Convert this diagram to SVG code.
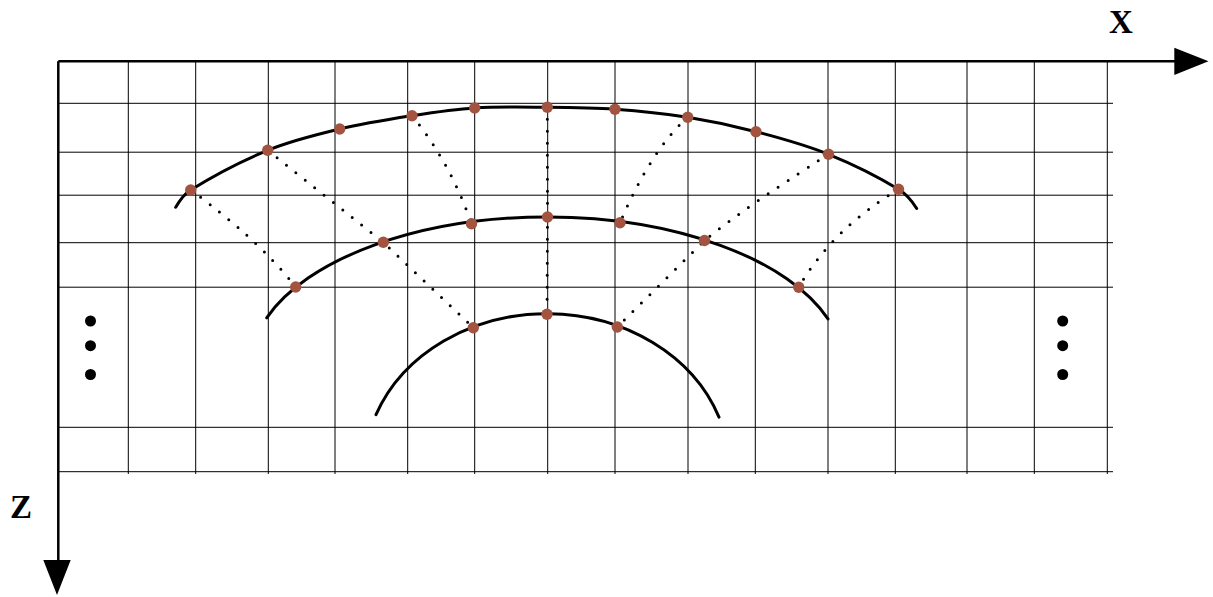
<svg xmlns="http://www.w3.org/2000/svg" width="1213" height="597" viewBox="0 0 1213 597">
<style>
.grid{stroke:#000;stroke-width:1;fill:none}
.axis{stroke:#000;stroke-width:2.5;fill:none}
.arc{stroke:#000;stroke-width:3;fill:none;stroke-linecap:round}
.ray{stroke:#000;stroke-width:3;fill:none;stroke-linecap:round;stroke-dasharray:0 12}
.pt{fill:#a25441}
.bd{fill:#000}
.lbl{font-family:"Liberation Serif","Times New Roman",serif;font-weight:bold;font-size:33px;fill:#000}
</style>
<rect width="1213" height="597" fill="#fff"/>
<g id="grid">
<path class="grid" d="M128.3 61V474M195.7 61V474M268.3 61V474M335 61V474M407.7 61V474M474.7 61V474M547.7 61V474M615 61V474M688 61V474M755.3 61V474M828 61V474M895.3 61V474M967 61V474M1034.3 61V474M1107.3 61V474"/>
<path class="grid" d="M58 103.3H1113M58 152.2H1113M58 195.2H1113M58 242.7H1113M58 287.2H1113M58 427.3H1113M58 471.7H1113"/>
</g>
<g id="axes">
<path class="axis" d="M58.3 61.3H1177M58.3 61.3V562"/>
<polygon points="1174.3,47.7 1208.5,61.3 1174.3,75" fill="#000"/>
<polygon points="43.3,560 70.7,560 57,595" fill="#000"/>
<text class="lbl" x="1109" y="33">X</text>
<text class="lbl" x="10" y="518">Z</text>
</g>
<g id="connectors">
<path class="ray" d="M190.7 190Q259 240 295.7 287"/>
<path class="ray" d="M267.7 150.3L383.3 242.3L473.3 327.7"/>
<path class="ray" d="M412 115.7Q450 162 471.5 223.7"/>
<path class="ray" d="M547.3 107.3L547.5 217L547 314.3"/>
<path class="ray" d="M687.7 117.3Q651 150 620 222.7"/>
<path class="ray" d="M828.5 154.3Q744 208 704.5 240.5L617.3 327"/>
<path class="ray" d="M898.5 189.3Q832.8 228.6 798.7 287.3"/>
</g>
<g id="outer-arc">
<path class="arc" d="M175.7 207.3C179.5 200.7 184.2 194 190.7 190C215.2 174.7 241 161.2 267.7 150.3C290.9 140.8 315.4 134.8 339.7 129C363.5 123.3 387.8 119.5 412 115.7C432.8 112.5 453.7 109.3 474.7 108C498.9 106.5 523.1 107.1 547.3 107.3C569.9 107.5 592.5 107.7 615 109.3C639.3 111 663.6 113.5 687.7 117.3C710.7 121 733.5 125.8 756 131.7C780.5 138.1 805 144.8 828.5 154.3C852.7 164.1 876.3 175.6 898.5 189.3C906 193.9 912 201 916.7 208.5"/>
</g>
<g id="middle-arc">
<path class="arc" d="M266.7 317.8A296.8 150.2 0 0 1 828 318.9"/>
</g>
<g id="inner-arc">
<path class="arc" d="M376 414.7A182.8 156.3 0 0 1 719 417.1"/>
</g>
<g id="outer-points">
<circle class="pt" cx="190.7" cy="190" r="5.7"/>
<circle class="pt" cx="267.7" cy="150.3" r="5.7"/>
<circle class="pt" cx="339.7" cy="129" r="5.7"/>
<circle class="pt" cx="412" cy="115.7" r="5.7"/>
<circle class="pt" cx="474.7" cy="108" r="5.7"/>
<circle class="pt" cx="547.3" cy="107.3" r="5.7"/>
<circle class="pt" cx="615" cy="109.3" r="5.7"/>
<circle class="pt" cx="687.7" cy="117.3" r="5.7"/>
<circle class="pt" cx="756" cy="131.7" r="5.7"/>
<circle class="pt" cx="828.5" cy="154.3" r="5.7"/>
<circle class="pt" cx="898.5" cy="189.3" r="5.7"/>
</g>
<g id="middle-points">
<circle class="pt" cx="295.7" cy="287" r="5.7"/>
<circle class="pt" cx="383.3" cy="242.3" r="5.7"/>
<circle class="pt" cx="471.5" cy="223.7" r="5.7"/>
<circle class="pt" cx="547.5" cy="217" r="5.7"/>
<circle class="pt" cx="620" cy="222.7" r="5.7"/>
<circle class="pt" cx="704.5" cy="240.5" r="5.7"/>
<circle class="pt" cx="798.7" cy="287.3" r="5.7"/>
</g>
<g id="inner-points">
<circle class="pt" cx="473.3" cy="327.7" r="5.7"/>
<circle class="pt" cx="547" cy="314.3" r="5.7"/>
<circle class="pt" cx="617.3" cy="327" r="5.7"/>
</g>
<g id="left-ellipsis">
<circle class="bd" cx="90.5" cy="321" r="5.5"/>
<circle class="bd" cx="90.5" cy="345.7" r="5.5"/>
<circle class="bd" cx="90.5" cy="374.5" r="5.5"/>
</g>
<g id="right-ellipsis">
<circle class="bd" cx="1062.7" cy="321" r="5.5"/>
<circle class="bd" cx="1062.7" cy="345.7" r="5.5"/>
<circle class="bd" cx="1062.7" cy="374.5" r="5.5"/>
</g>
</svg>
